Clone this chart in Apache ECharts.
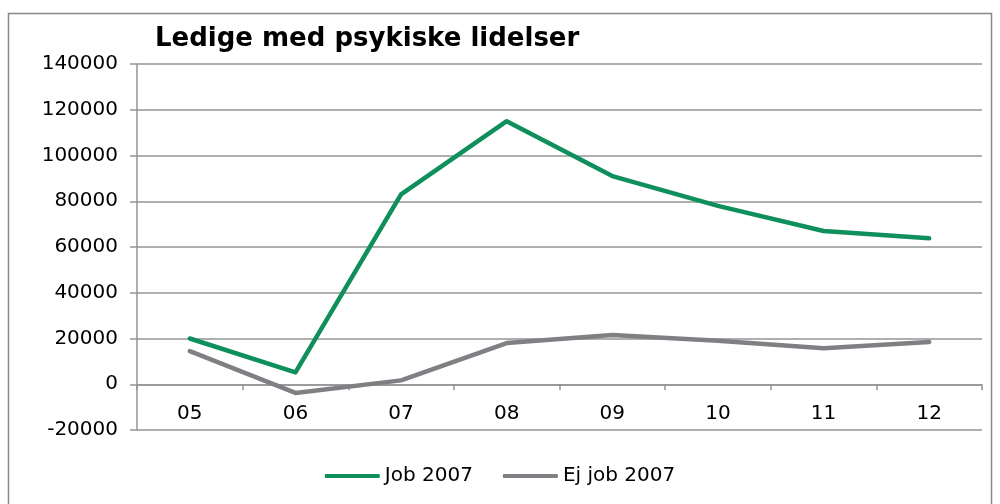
<!DOCTYPE html>
<html>
<head>
<meta charset="utf-8">
<script src="https://cdn.jsdelivr.net/npm/echarts@6/dist/echarts.min.js"></script>
<style>
  html, body { margin: 0; padding: 0; background: #fff; }
  #chart { width: 1000px; height: 504px; }
</style>
</head>
<body>
<div id="chart"></div>
<script>
// data
const years = ['05', '06', '07', '08', '09', '10', '11', '12']
const jobValues = [20000, 5200, 83000, 115000, 91000, 78000, 67000, 63800]
const ejJobValues = [14500, -3800, 1700, 18000, 21500, 19000, 15700, 18500]

const chart = echarts.init(document.getElementById('chart'), null, { renderer: 'canvas' })

const gridColor = '#959595'
const font = 'DejaVu Sans, Verdana, sans-serif'

chart.setOption({
  animation: false,
  backgroundColor: '#fff',
  title: {
    text: 'Ledige med psykiske lidelser',
    left: 150,
    top: 21,
    textStyle: { fontFamily: font, fontSize: 26, fontWeight: 'bold', color: '#000' }
  },
  graphic: [{
    type: 'rect',
    shape: { x: 8.5, y: 13.5, width: 983, height: 500 },
    style: { fill: 'none', stroke: '#888', lineWidth: 1.5 },
    silent: true
  }],
  legend: {
    bottom: 13,
    left: 'center',
    itemWidth: 55,
    itemHeight: 4,
    itemGap: 30,
    icon: 'roundRect',
    textStyle: { fontFamily: font, fontSize: 20, color: '#000' },
    data: ['Job 2007', 'Ej job 2007']
  },
  grid: { left: 137, right: 18, top: 64, bottom: 74 },
  xAxis: {
    type: 'category',
    data: years,
    boundaryGap: true,
    axisLine: { onZero: true, lineStyle: { color: gridColor, width: 1.5 } },
    axisTick: { show: true, interval: 0, length: 6, lineStyle: { color: gridColor, width: 1.5 } },
    axisLabel: { fontFamily: font, fontSize: 20, color: '#000', margin: -26 }
  },
  yAxis: {
    type: 'value',
    min: -20000,
    max: 140000,
    interval: 20000,
    axisLine: { show: true, lineStyle: { color: gridColor, width: 1.5 } },
    axisTick: { show: true, length: 7, lineStyle: { color: gridColor, width: 1.5 } },
    axisLabel: {
      fontFamily: font, fontSize: 20, color: '#000', margin: 19,
      formatter: v => String(v)
    },
    splitLine: { lineStyle: { color: gridColor, width: 1.5 } }
  },
  series: [
    {
      name: 'Job 2007',
      type: 'line',
      data: jobValues,
      symbol: 'none',
      lineStyle: { color: '#0E8F5C', width: 4.5, cap: 'round', join: 'round' },
      itemStyle: { color: '#0E8F5C' }
    },
    {
      name: 'Ej job 2007',
      type: 'line',
      data: ejJobValues,
      symbol: 'none',
      lineStyle: { color: '#7F8083', width: 4.5, cap: 'round', join: 'round' },
      itemStyle: { color: '#7F8083' }
    }
  ]
})
</script>
</body>
</html>
